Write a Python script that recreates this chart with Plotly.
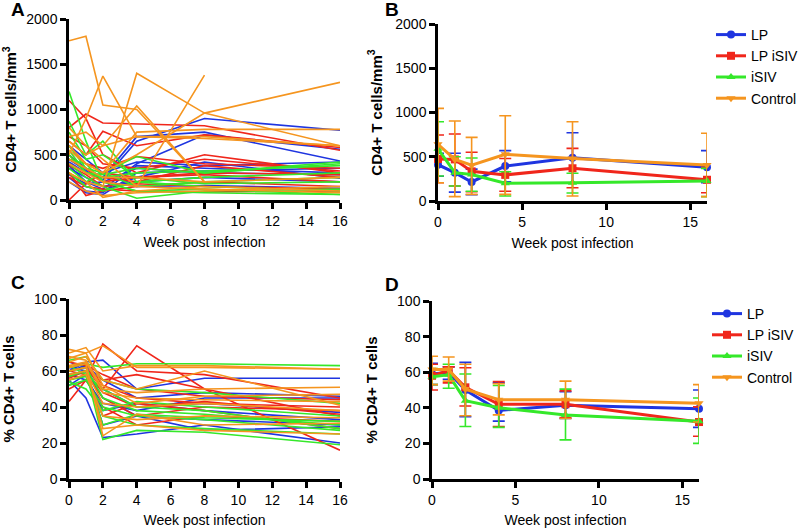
import plotly.graph_objects as go

# ---------------- data ----------------
weeks = [0, 1, 2, 4, 8, 16]
groups = ["LP", "LP iSIV", "iSIV", "Control"]
colors = {"LP": "#1f35e0", "LP iSIV": "#f0261b", "iSIV": "#35e82a", "Control": "#f5951f"}
symbols = {"LP": "circle", "LP iSIV": "square", "iSIV": "triangle-up", "Control": "triangle-down"}

# Panel A: individual CD4+ counts (cells/mm3) at weeks 0,1,2,4,8,16
lp_counts = [
    [420, 300, 220, 650, 900, 770],
    [500, 350, 250, 700, 750, 430],
    [380, 200, 120, 400, 720, 560],
    [300, 150, 100, 250, 420, 240],
    [250, 100, 80, 380, 350, 300],
    [600, 450, 300, 420, 380, 420],
    [200, 80, 60, 300, 320, 350],
    [350, 250, 150, 200, 250, 200],
    [450, 320, 200, 350, 300, 280],
    [280, 180, 200, 150, 160, 130],
]
lpisiv_counts = [
    [800, 950, 850, 840, 820, 550],
    [1100, 900, 500, 300, 500, 300],
    [700, 600, 400, 350, 450, 320],
    [500, 300, 250, 200, 380, 250],
    [0, 180, 300, 250, 280, 200],
    [300, 50, 100, 150, 200, 150],
    [600, 400, 350, 480, 400, 350],
    [450, 350, 200, 250, 300, 280],
    [250, 150, 120, 100, 90, 100],
    [650, 500, 760, 600, 720, 580],
    [380, 280, 150, 180, 150, 120],
]
isiv_counts = [
    [1200, 650, 200, 100, 80, 60],
    [870, 500, 650, 200, 150, 100],
    [600, 350, 300, 480, 300, 400],
    [500, 300, 250, 300, 320, 380],
    [400, 250, 150, 20, 100, 120],
    [350, 200, 300, 150, 200, 250],
    [750, 450, 500, 250, 180, 200],
    [300, 150, 100, 200, 250, 300],
    [550, 300, 280, 350, 300, 420],
    [450, 400, 200, 100, 120, 60],
]
control_counts = [
    [1760, 1810, 1050, 1000, 200, None],
    [500, 900, 1370, 700, 680, 600],
    [300, 200, 150, 1400, 960, 600],
    [600, 400, 300, 500, 960, 1300],
    [400, 300, 200, 150, 1380, None],
    [700, 750, 600, 1040, 200, None],
    [550, 400, 300, 750, 780, 780],
    [650, 500, 600, 700, 700, 600],
    [300, 200, 30, 100, 150, 100],
    [450, 350, 250, 250, 200, 250],
    [800, 600, 450, 150, 120, 80],
    [200, 100, 50, 80, 100, 150],
]

# Panel B: group means and error-bar ends (cells/mm3)
b_mean = {
    "LP": [410, 320, 215, 395, 490, 380],
    "LP iSIV": [475, 470, 335, 295, 370, 240],
    "iSIV": [590, 320, 300, 200, 205, 225],
    "Control": [640, 470, 405, 527, 480, 407],
}
b_upper = {
    "LP": [540, 540, 360, 569, 772, 569],
    "LP iSIV": [746, 757, 550, 480, 595, 380],
    "iSIV": [896, 500, 486, 331, 313, 369],
    "Control": [1047, 904, 719, 964, 896, 765],
}
b_lower = {
    "LP": [280, 100, 70, 218, 200, 207],
    "LP iSIV": [207, 170, 105, 110, 150, 94],
    "iSIV": [282, 170, 110, 56, 90, 49],
    "Control": [207, 49, 75, 75, 56, 49],
}

# Panel C: individual % CD4+ T cells at weeks 0,1,2,4,8,16
lp_pct = [
    [60, 65, 66, 50, 56, 56],
    [55, 45, 23, 25, 30, 20],
    [62, 60, 30, 35, 27, 29],
    [58, 55, 42, 38, 45, 45],
    [65, 62, 50, 40, 42, 37],
    [52, 58, 38, 42, 38, 33],
    [60, 63, 55, 45, 48, 46],
    [57, 60, 45, 35, 33, 30],
]
lpisiv_pct = [
    [43, 55, 75, 60, 58, 45],
    [60, 62, 50, 74, 50, 35],
    [58, 60, 55, 58, 50, 16],
    [55, 58, 45, 35, 40, 38],
    [62, 64, 52, 45, 42, 40],
    [50, 55, 40, 30, 35, 32],
    [65, 63, 58, 50, 46, 44],
    [56, 60, 48, 40, 43, 36],
    [60, 58, 35, 42, 38, 28],
]
isiv_pct = [
    [62, 64, 62, 64, 64, 63],
    [58, 60, 22, 27, 26, 19],
    [55, 57, 35, 30, 28, 25],
    [60, 62, 45, 38, 36, 30],
    [52, 55, 40, 35, 33, 27],
    [66, 68, 55, 50, 48, 42],
    [57, 60, 30, 36, 34, 32],
    [63, 58, 50, 40, 38, 28],
    [54, 50, 38, 43, 40, 35],
]
control_pct = [
    [72, 70, 74, 62, 62, 61],
    [70, 73, 60, 63, 63, 61],
    [65, 68, 55, 50, 60, 41],
    [60, 62, 28, 30, 27, 25],
    [68, 66, 50, 48, 50, 51],
    [58, 60, 42, 40, 42, 38],
    [63, 65, 48, 45, 44, 43],
    [55, 58, 35, 33, 35, 34],
    [67, 70, 52, 42, 46, 47],
    [62, 64, 24, 36, 30, 31],
]

# Panel D: group means and error-bar ends (%)
d_mean = {
    "LP": [59, 60, 50, 38.5, 41.5, 39.5],
    "LP iSIV": [58, 61, 51.5, 42, 42, 32],
    "iSIV": [57.5, 58.5, 44, 40, 36, 32.5],
    "Control": [61.5, 61.5, 50.5, 44.5, 44.5, 42.5],
}
d_upper = {
    "LP": [65, 63, 65.5, 54, 49, 50],
    "LP iSIV": [64.5, 63, 62.5, 54.7, 49.5, 40.5],
    "iSIV": [62, 64.5, 59, 52.5, 50.5, 45.5],
    "Control": [69, 68.5, 64.5, 53.5, 55, 53],
}
d_lower = {
    "LP": [53, 56, 35, 32.5, 34, 29],
    "LP iSIV": [50, 54, 41, 29.5, 34.5, 24],
    "iSIV": [53, 51, 29.5, 29, 22, 20],
    "Control": [53, 55, 35.5, 36, 34, 32],
}

indiv_counts = {"LP": lp_counts, "LP iSIV": lpisiv_counts, "iSIV": isiv_counts, "Control": control_counts}
indiv_pct = {"LP": lp_pct, "LP iSIV": lpisiv_pct, "iSIV": isiv_pct, "Control": control_pct}

# ---------------- figure ----------------
W, H = 800, 528
FONT = "Arial, Liberation Sans, Helvetica, sans-serif"


def xdom(px0, px1):
    return [px0 / W, px1 / W]


def ydom(top_px, bot_px):
    return [1 - bot_px / H, 1 - top_px / H]


fig = go.Figure()

# Panel A (x, y) and C (x3, y3): individual lines
for g in groups:
    for row in indiv_counts[g]:
        fig.add_trace(go.Scatter(x=weeks, y=row, mode="lines", connectgaps=True,
                                 line=dict(color=colors[g], width=1.6),
                                 showlegend=False, hoverinfo="skip", xaxis="x", yaxis="y"))
    for row in indiv_pct[g]:
        fig.add_trace(go.Scatter(x=weeks, y=row, mode="lines", connectgaps=True,
                                 line=dict(color=colors[g], width=1.6),
                                 showlegend=False, hoverinfo="skip", xaxis="x3", yaxis="y3"))

# Panel B (x2, y2) and D (x4, y4): means with error bars
for g in groups:
    up = [u - m for u, m in zip(b_upper[g], b_mean[g])]
    dn = [m - l for m, l in zip(b_mean[g], b_lower[g])]
    fig.add_trace(go.Scatter(x=weeks, y=b_mean[g], mode="lines+markers", name=g,
                             line=dict(color=colors[g], width=3),
                             marker=dict(symbol=symbols[g], size=8, color=colors[g]),
                             error_y=dict(type="data", symmetric=False, array=up, arrayminus=dn,
                                          color=colors[g], thickness=1.6, width=6),
                             cliponaxis=False, legend="legend", xaxis="x2", yaxis="y2"))
for g in groups:
    up = [u - m for u, m in zip(d_upper[g], d_mean[g])]
    dn = [m - l for m, l in zip(d_mean[g], d_lower[g])]
    fig.add_trace(go.Scatter(x=weeks, y=d_mean[g], mode="lines+markers", name=g,
                             line=dict(color=colors[g], width=3),
                             marker=dict(symbol=symbols[g], size=8, color=colors[g]),
                             error_y=dict(type="data", symmetric=False, array=up, arrayminus=dn,
                                          color=colors[g], thickness=1.6, width=6),
                             cliponaxis=False, legend="legend2", xaxis="x4", yaxis="y4"))

axis_common = dict(showline=True, linecolor="black", linewidth=2.5, ticks="outside",
                   ticklen=6, tickwidth=2.5, tickcolor="black", showgrid=False, zeroline=False,
                   tickfont=dict(family=FONT, size=14, color="black"), automargin=False)

xt = dict(text="Week post infection", font=dict(family=FONT, size=14, color="black"), standoff=10)


def ytitle(txt, standoff):
    return dict(text="<b>" + txt + "</b>", font=dict(family=FONT, size=15, color="black"), standoff=standoff)


def letter(txt, xpx, ypx):
    return dict(text="<b>" + txt + "</b>", x=xpx / W, y=1 - ypx / H, xref="paper", yref="paper",
                xanchor="center", yanchor="middle", showarrow=False,
                font=dict(family=FONT, size=19, color="black"))


fig.update_layout(
    width=W, height=H, margin=dict(l=0, r=0, t=0, b=0, autoexpand=False),
    paper_bgcolor="white", plot_bgcolor="white",
    font=dict(family=FONT, color="black"),
    xaxis=dict(domain=xdom(69, 340), range=[0, 16], tickvals=[0, 2, 4, 6, 8, 10, 12, 14, 16],
               anchor="y", title=xt, **axis_common),
    yaxis=dict(domain=ydom(19, 200), range=[0, 2000], tickvals=[0, 500, 1000, 1500, 2000],
               anchor="x", title=ytitle("CD4+ T cells/mm<sup>3</sup>", 8), **axis_common),
    xaxis2=dict(domain=xdom(438, 707), range=[0, 16], tickvals=[0, 5, 10, 15],
                anchor="y2", title=xt, **axis_common),
    yaxis2=dict(domain=ydom(24, 201), range=[0, 2000], tickvals=[0, 500, 1000, 1500, 2000],
                anchor="x2", title=ytitle("CD4+ T cells/mm<sup>3</sup>", 10), **axis_common),
    xaxis3=dict(domain=xdom(69, 340), range=[0, 16], tickvals=[0, 2, 4, 6, 8, 10, 12, 14, 16],
                anchor="y3", title=xt, **axis_common),
    yaxis3=dict(domain=ydom(299, 479), range=[0, 100], tickvals=[0, 20, 40, 60, 80, 100],
                anchor="x3", title=ytitle("% CD4+ T cells", 16), **axis_common),
    xaxis4=dict(domain=xdom(432, 699), range=[0, 16], tickvals=[0, 5, 10, 15],
                anchor="y4", title=xt, **axis_common),
    yaxis4=dict(domain=ydom(301, 479), range=[0, 100], tickvals=[0, 20, 40, 60, 80, 100],
                anchor="x4", title=ytitle("% CD4+ T cells", 16), **axis_common),
    legend=dict(x=711 / W, y=1 - 19 / H, xanchor="left", yanchor="top",
                font=dict(family=FONT, size=14, color="black"), bgcolor="rgba(0,0,0,0)",
                itemwidth=30),
    legend2=dict(x=707 / W, y=1 - 298 / H, xanchor="left", yanchor="top",
                 font=dict(family=FONT, size=14, color="black"), bgcolor="rgba(0,0,0,0)",
                 itemwidth=30),
    annotations=[
        letter("A", 18, 10),
        letter("B", 392, 10),
        letter("C", 18, 282),
        letter("D", 392, 284),
    ],
)

# remove the default 8px page margin so the figure sits at the window's top-left corner
fig.write_html("out.html", config={"displayModeBar": False},
               post_script="document.body.style.margin='0';"
                           "document.documentElement.style.overflow='hidden';")
